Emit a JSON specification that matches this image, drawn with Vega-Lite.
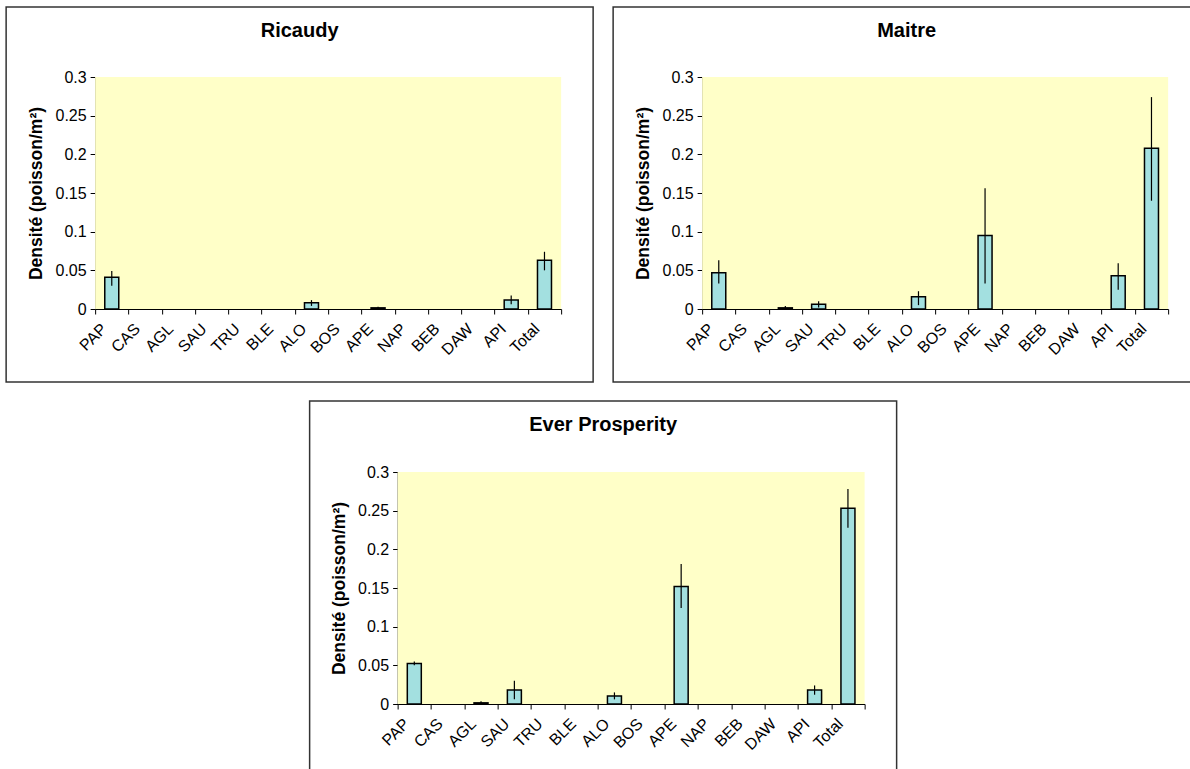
{
  "$schema": "https://vega.github.io/schema/vega-lite/v6.json",
  "padding": {"left": -1, "top": 6, "right": 0, "bottom": 0},
  "background": "white",
  "config": {
    "view": {"stroke": "#333333", "strokeWidth": 1.5},
    "font": "Liberation Sans",
    "axis": {"labelFont": "Liberation Sans", "titleFont": "Liberation Sans", "labelColor": "black", "titleColor": "black", "domainColor": "black", "tickColor": "black", "grid": false},
    "title": {"font": "Liberation Sans", "fontSize": 20, "fontWeight": "bold", "color": "black", "anchor": "middle", "frame": "group", "offset": -34}
  },
  "datasets": {
    "zone": [{"a": 0, "b": 1, "lo": 0, "hi": 0.3}],
    "d": [
      {"site": "Ricaudy", "cat": "PAP", "v": 0.041, "lo": 0.030, "hi": 0.049},
      {"site": "Ricaudy", "cat": "ALO", "v": 0.008, "lo": 0.004, "hi": 0.0115},
      {"site": "Ricaudy", "cat": "APE", "v": 0.0015, "lo": 0.0005, "hi": 0.003},
      {"site": "Ricaudy", "cat": "API", "v": 0.0115, "lo": 0.006, "hi": 0.0175},
      {"site": "Ricaudy", "cat": "Total", "v": 0.063, "lo": 0.050, "hi": 0.074},
      {"site": "Maitre", "cat": "PAP", "v": 0.047, "lo": 0.033, "hi": 0.063},
      {"site": "Maitre", "cat": "AGL", "v": 0.0015, "lo": 0.0005, "hi": 0.004},
      {"site": "Maitre", "cat": "SAU", "v": 0.006, "lo": 0.002, "hi": 0.010},
      {"site": "Maitre", "cat": "ALO", "v": 0.016, "lo": 0.005, "hi": 0.023},
      {"site": "Maitre", "cat": "APE", "v": 0.095, "lo": 0.033, "hi": 0.156},
      {"site": "Maitre", "cat": "API", "v": 0.043, "lo": 0.025, "hi": 0.059},
      {"site": "Maitre", "cat": "Total", "v": 0.208, "lo": 0.140, "hi": 0.274},
      {"site": "Ever Prosperity", "cat": "PAP", "v": 0.0525, "lo": 0.050, "hi": 0.055},
      {"site": "Ever Prosperity", "cat": "AGL", "v": 0.0015, "lo": 0.0005, "hi": 0.0035},
      {"site": "Ever Prosperity", "cat": "SAU", "v": 0.018, "lo": 0.006, "hi": 0.030},
      {"site": "Ever Prosperity", "cat": "ALO", "v": 0.0105, "lo": 0.006, "hi": 0.015},
      {"site": "Ever Prosperity", "cat": "APE", "v": 0.152, "lo": 0.124, "hi": 0.181},
      {"site": "Ever Prosperity", "cat": "API", "v": 0.018, "lo": 0.012, "hi": 0.024},
      {"site": "Ever Prosperity", "cat": "Total", "v": 0.253, "lo": 0.228, "hi": 0.278}
    ]
  },
  "spacing": 17,
  "center": true,
  "vconcat": [
    {
      "spacing": 12,
      "hconcat": [
        {
          "title": "Ricaudy",
          "width": 587, "height": 375,
          "resolve": {"scale": {"x": "independent"}, "axis": {"x": "independent"}},
          "layer": [
            {
              "data": {"name": "zone"},
              "mark": {"type": "rect", "fill": "#FFFFC8"},
              "encoding": {
                "x": {"field": "a", "type": "quantitative", "scale": {"domain": [0, 1], "range": [89, 555]}, "axis": null},
                "x2": {"field": "b"},
                "y": {"field": "lo", "type": "quantitative", "scale": {"domain": [0, 0.3], "range": [302, 70], "nice": false},
                  "axis": {"orient": "left", "offset": -89, "values": [0, 0.05, 0.1, 0.15, 0.2, 0.25, 0.3], "format": "~g", "tickSize": 5, "labelFontSize": 16, "labelPadding": 4, "title": "Densité (poisson/m²)", "titleFontSize": 17.5, "titleFontWeight": "bold", "titlePadding": 9}},
                "y2": {"field": "hi"}
              }
            },
            {
              "data": {"name": "d"},
              "transform": [{"filter": "datum.site === 'Ricaudy'"}],
              "encoding": {
                "x": {"field": "cat", "type": "nominal", "scale": {"type": "band", "domain": ["PAP","CAS","AGL","SAU","TRU","BLE","ALO","BOS","APE","NAP","BEB","DAW","API","Total"], "range": [89, 555], "paddingInner": 0, "paddingOuter": 0},
                  "axis": {"orient": "bottom", "offset": -73, "title": null, "tickBand": "extent", "labelAngle": -45, "labelAlign": "right", "labelBaseline": "middle", "labelPadding": 12, "labelOffset": -8, "labelFontSize": 16, "tickSize": 5, "labelOverlap": false}}
              },
              "layer": [
                {
                  "mark": {"type": "bar", "width": 14, "fill": "#A3E0E0", "stroke": "black", "strokeWidth": 1.5},
                  "encoding": {
                    "y": {"field": "v", "type": "quantitative", "scale": {"domain": [0, 0.3], "range": [302, 70], "nice": false}}
                  }
                },
                {
                  "mark": {"type": "rule", "color": "black", "strokeWidth": 1.2},
                  "encoding": {
                    "y": {"field": "lo", "type": "quantitative", "scale": {"domain": [0, 0.3], "range": [302, 70], "nice": false}},
                    "y2": {"field": "hi"}
                  }
                }
              ]
            }
          ]
        },
        {
          "title": "Maitre",
          "width": 587, "height": 375,
          "resolve": {"scale": {"x": "independent"}, "axis": {"x": "independent"}},
          "layer": [
            {
              "data": {"name": "zone"},
              "mark": {"type": "rect", "fill": "#FFFFC8"},
              "encoding": {
                "x": {"field": "a", "type": "quantitative", "scale": {"domain": [0, 1], "range": [89, 555]}, "axis": null},
                "x2": {"field": "b"},
                "y": {"field": "lo", "type": "quantitative", "scale": {"domain": [0, 0.3], "range": [302, 70], "nice": false},
                  "axis": {"orient": "left", "offset": -89, "values": [0, 0.05, 0.1, 0.15, 0.2, 0.25, 0.3], "format": "~g", "tickSize": 5, "labelFontSize": 16, "labelPadding": 4, "title": "Densité (poisson/m²)", "titleFontSize": 17.5, "titleFontWeight": "bold", "titlePadding": 9}},
                "y2": {"field": "hi"}
              }
            },
            {
              "data": {"name": "d"},
              "transform": [{"filter": "datum.site === 'Maitre'"}],
              "encoding": {
                "x": {"field": "cat", "type": "nominal", "scale": {"type": "band", "domain": ["PAP","CAS","AGL","SAU","TRU","BLE","ALO","BOS","APE","NAP","BEB","DAW","API","Total"], "range": [89, 555], "paddingInner": 0, "paddingOuter": 0},
                  "axis": {"orient": "bottom", "offset": -73, "title": null, "tickBand": "extent", "labelAngle": -45, "labelAlign": "right", "labelBaseline": "middle", "labelPadding": 12, "labelOffset": -8, "labelFontSize": 16, "tickSize": 5, "labelOverlap": false}}
              },
              "layer": [
                {
                  "mark": {"type": "bar", "width": 14, "fill": "#A3E0E0", "stroke": "black", "strokeWidth": 1.5},
                  "encoding": {
                    "y": {"field": "v", "type": "quantitative", "scale": {"domain": [0, 0.3], "range": [302, 70], "nice": false}}
                  }
                },
                {
                  "mark": {"type": "rule", "color": "black", "strokeWidth": 1.2},
                  "encoding": {
                    "y": {"field": "lo", "type": "quantitative", "scale": {"domain": [0, 0.3], "range": [302, 70], "nice": false}},
                    "y2": {"field": "hi"}
                  }
                }
              ]
            }
          ]
        }
      ]
    },
    {
      "title": "Ever Prosperity",
      "width": 587, "height": 375,
      "resolve": {"scale": {"x": "independent"}, "axis": {"x": "independent"}},
      "layer": [
        {
          "data": {"name": "zone"},
          "mark": {"type": "rect", "fill": "#FFFFC8"},
          "encoding": {
            "x": {"field": "a", "type": "quantitative", "scale": {"domain": [0, 1], "range": [88, 555]}, "axis": null},
            "x2": {"field": "b"},
            "y": {"field": "lo", "type": "quantitative", "scale": {"domain": [0, 0.3], "range": [303, 71], "nice": false},
              "axis": {"orient": "left", "offset": -88, "values": [0, 0.05, 0.1, 0.15, 0.2, 0.25, 0.3], "format": "~g", "tickSize": 5, "labelFontSize": 16, "labelPadding": 4, "title": "Densité (poisson/m²)", "titleFontSize": 17.5, "titleFontWeight": "bold", "titlePadding": 9}},
            "y2": {"field": "hi"}
          }
        },
        {
          "data": {"name": "d"},
          "transform": [{"filter": "datum.site === 'Ever Prosperity'"}],
          "encoding": {
            "x": {"field": "cat", "type": "nominal", "scale": {"type": "band", "domain": ["PAP","CAS","AGL","SAU","TRU","BLE","ALO","BOS","APE","NAP","BEB","DAW","API","Total"], "range": [88, 555], "paddingInner": 0, "paddingOuter": 0},
              "axis": {"orient": "bottom", "offset": -72, "title": null, "tickBand": "extent", "labelAngle": -45, "labelAlign": "right", "labelBaseline": "middle", "labelPadding": 12, "labelOffset": -8, "labelFontSize": 16, "tickSize": 5, "labelOverlap": false}}
          },
          "layer": [
            {
              "mark": {"type": "bar", "width": 14, "fill": "#A3E0E0", "stroke": "black", "strokeWidth": 1.5},
              "encoding": {
                "y": {"field": "v", "type": "quantitative", "scale": {"domain": [0, 0.3], "range": [303, 71], "nice": false}}
              }
            },
            {
              "mark": {"type": "rule", "color": "black", "strokeWidth": 1.2},
              "encoding": {
                "y": {"field": "lo", "type": "quantitative", "scale": {"domain": [0, 0.3], "range": [303, 71], "nice": false}},
                "y2": {"field": "hi"}
              }
            }
          ]
        }
      ]
    }
  ]
}
